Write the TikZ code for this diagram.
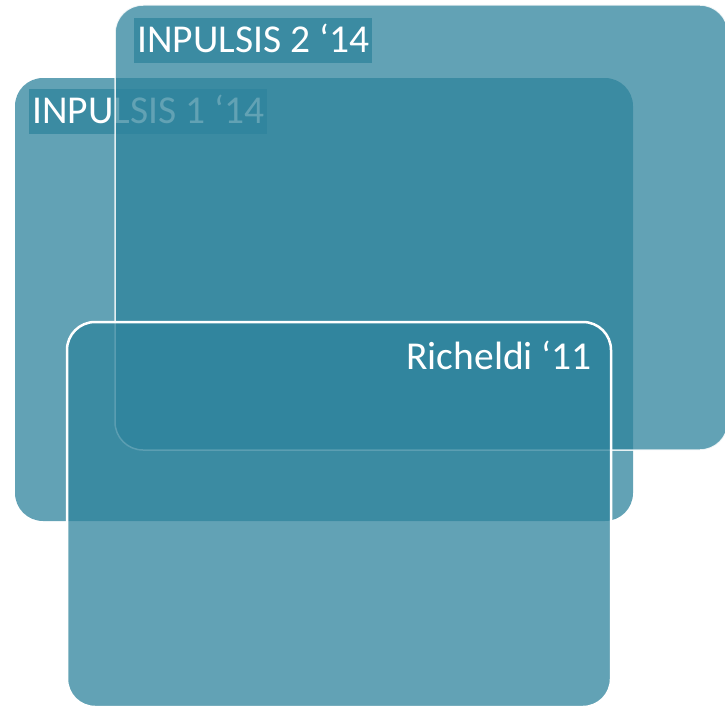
\documentclass[tikz,border=0pt]{standalone}
\usepackage{fontspec}
\setmainfont{Carlito}
\definecolor{tealbase}{RGB}{46,131,156}
\begin{document}
\begin{tikzpicture}[x=1pt,y=-1pt,
  panel/.style={fill=tealbase, fill opacity=0.75, rounded corners=28pt},
  lblfont/.style={font=\fontsize{39.5}{42}\selectfont},
  lbl/.style={lblfont, fill=tealbase, fill opacity=0.75, text opacity=1, text=white,
    inner xsep=3pt, inner ysep=0pt,
    text height=34pt, text depth=11pt, anchor=north west}]
\useasboundingbox (0,0) rectangle (725,709);
% INPULSIS 1
\path[panel] (15,78) rectangle (633,521);
\node[lbl] (l1) at (29,89) {INPULSIS 1 ‘14};
% INPULSIS 2
\path[panel, draw=white, draw opacity=0.85, line width=1.5pt] (115,5) rectangle (728,450);
\node[lbl] (l2) at (134,18) {INPULSIS 2 ‘14};
% Richeldi
\path[panel, draw=white, draw opacity=1, line width=2.5pt] (67,322) rectangle (611,707);
\node[lblfont, text=white, anchor=base east, inner sep=0pt] (l3) at (592,369) {Richeldi ‘11};
\end{tikzpicture}
\end{document}
